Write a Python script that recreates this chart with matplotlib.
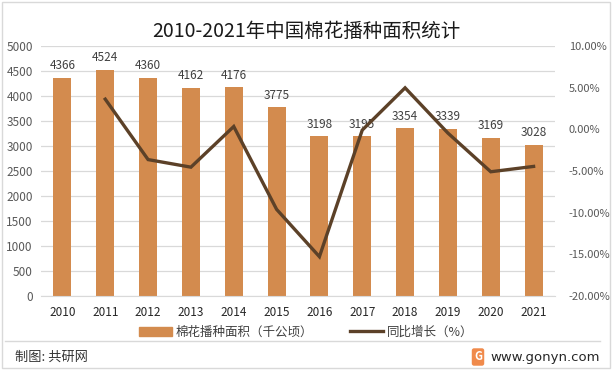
import matplotlib
matplotlib.use("Agg")
import matplotlib.pyplot as plt
from matplotlib.patches import Rectangle
from matplotlib.lines import Line2D
from matplotlib.ticker import FuncFormatter, MultipleLocator

plt.rcParams['font.family'] = ['Noto Sans CJK SC', 'DejaVu Sans']

# data
years = ['2010', '2011', '2012', '2013', '2014', '2015',
         '2016', '2017', '2018', '2019', '2020', '2021']
area = [4366, 4524, 4360, 4162, 4176, 3775, 3198, 3195, 3354, 3339, 3169, 3028]
growth_years = years[1:]
growth = [3.62, -3.63, -4.54, 0.34, -9.60, -15.28, -0.09, 4.98, -0.45, -5.09, -4.45]

bar_color = '#D38B4E'
line_color = '#5C4128'
grid_color = '#D9D9D9'
text_color = '#404040'

W, H = 612, 370
fig = plt.figure(figsize=(W / 100, H / 100), dpi=100)

# plot area in pixel coordinates: x 41..555, y 46..296
left, right, top, bottom = 41, 555, 46, 296
ax = fig.add_axes([left / W, 1 - bottom / H, (right - left) / W, (bottom - top) / H])

x = list(range(len(years)))
ax.bar(x, area, width=0.42, color=bar_color, zorder=2)
for xi, v in zip(x, area):
    ax.annotate(str(v), (xi, v), xytext=(0, 4), textcoords='offset points',
                ha='center', va='bottom', fontsize=8.5, color=text_color, zorder=3)

ax.set_xlim(-0.5, len(years) - 0.5)
ax.set_ylim(0, 5000)
ax.yaxis.set_major_locator(MultipleLocator(500))
ax.set_xticks(x)
ax.set_xticklabels(years, fontsize=8.5, color='#262626')
ax.tick_params(axis='y', labelsize=8.5, labelcolor='#595959', length=0, pad=6)
ax.tick_params(axis='x', length=0, pad=7)
ax.grid(axis='y', color=grid_color, lw=0.9, zorder=0)
ax.set_axisbelow(True)
for s in ['top', 'right', 'left']:
    ax.spines[s].set_visible(False)
ax.spines['bottom'].set_color(grid_color)

ax2 = ax.twinx()
gx = [years.index(y) for y in growth_years]
ax2.plot(gx, growth, color=line_color, lw=2.4, zorder=5, solid_joinstyle='miter')
ax2.set_ylim(-20, 10)
ax2.yaxis.set_major_locator(MultipleLocator(5))
ax2.yaxis.set_major_formatter(FuncFormatter(lambda v, p: f'{v:.2f}%'))
ax2.tick_params(axis='y', labelsize=8, labelcolor='#595959', length=0, pad=10)
for s in ax2.spines.values():
    s.set_visible(False)
ax.set_zorder(1)
ax2.set_zorder(2)
ax2.patch.set_visible(False)

# title
fig.text(306 / W, 1 - 31 / H, '2010-2021年中国棉花播种面积统计',
         ha='center', va='center', fontsize=14, color='#1a1a1a')

# legend
handles = [Rectangle((0, 0), 1, 1, color=bar_color),
           Line2D([0], [0], color=line_color, lw=2.4)]
fig.legend(handles, ['棉花播种面积（千公顷）', '同比增长（%）'],
           loc='center', bbox_to_anchor=(306 / W, 1 - 332 / H), ncol=2,
           frameon=False, fontsize=9, handlelength=2.6, handleheight=0.7,
           columnspacing=3.0, handletextpad=0.3, labelcolor='#404040')

# footer
fig.add_artist(Line2D([5 / W, 600 / W], [1 - 341 / H, 1 - 341 / H],
                      color=grid_color, lw=1))
fig.text(15 / W, 1 - 357 / H, '制图: 共研网', ha='left', va='center',
         fontsize=9.5, color='#333333')
fig.text(478 / W, 1 - 357 / H, 'G', ha='center', va='center', fontsize=8,
         color='white', fontweight='bold',
         bbox=dict(boxstyle='round,pad=0.2', fc='#F08A4B', ec='none'))
fig.text(600 / W, 1 - 357 / H, 'www.gonyn.com', ha='right', va='center',
         fontsize=9.5, color='#262626', family=['DejaVu Sans'])

# outer border
fig.add_artist(Rectangle((2 / W, 2 / H), (W - 4) / W, (H - 4) / H,
                         transform=fig.transFigure, fill=False,
                         ec=grid_color, lw=1))

fig.savefig('out.png', dpi=100)
